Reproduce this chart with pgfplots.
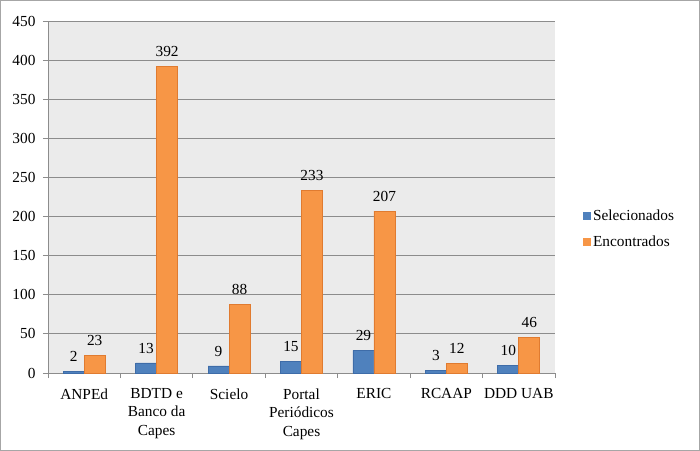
\documentclass[border=0pt]{standalone}
\usepackage{pgfplots}
\pgfplotsset{compat=1.18}
\usepackage{fontspec}
\setmainfont{Liberation Serif}
\definecolor{selblue}{HTML}{4F81BD}
\definecolor{seledge}{HTML}{3E6CA8}
\definecolor{encorange}{HTML}{F79646}
\definecolor{encedge}{HTML}{E07B30}
\definecolor{plotbg}{HTML}{EBEBEB}
\definecolor{gridgray}{HTML}{8C8C8C}
\newcommand{\chartfont}{\rmfamily\fontsize{15.4}{18.5}\selectfont}

\begin{document}
\begin{tikzpicture}
\path[use as bounding box] (-48bp,-78bp) rectangle (652bp,373bp);
\draw[gray!70, line width=1bp] (-47.5bp,-77.5bp) rectangle (651.5bp,372.5bp);
\begin{axis}[
    at={(0,0)}, anchor=south west,
    scale only axis,
    width=507bp, height=352bp,
    ybar=0pt, bar width=21bp,
    xmin=-0.5, xmax=6.5,
    ymin=0, ymax=450,
    ytick={0,50,...,450},
    xtick={-0.5,0.5,...,6.5},
    xticklabels={},
    extra x ticks={0,1,2,3,4,5,6},
    extra x tick labels={ANPEd,BDTD e\\Banco da\\Capes,Scielo,Portal\\Periódicos\\Capes,ERIC,RCAAP,DDD UAB},
    extra x tick style={major tick length=0pt, grid=none},
    xticklabel style={align=center, font=\chartfont, yshift=-12bp},
    yticklabel style={font=\chartfont, xshift=-4bp},
    /pgf/number format/assume math mode=true,
    tick align=outside,
    major tick length=5bp,
    tick style={gridgray, line width=0.8bp},
    axis x line*=bottom, axis y line*=left,
    every outer x axis line/.append style={-},
    every outer y axis line/.append style={-},
    axis line style={gridgray, line width=0.8bp},
    axis background/.style={fill=plotbg},
    ymajorgrids=true,
    grid style={gridgray, line width=0.8bp},
    nodes near coords,
    every node near coord/.append style={font=\chartfont, black, yshift=6bp},
    legend style={at={(1.055,0.41)}, anchor=west, draw=none, fill=none,
        font=\chartfont, row sep=10bp, inner sep=0pt,
        /tikz/every even column/.append style={column sep=0pt}},
    legend cell align=left,
    legend image code/.code={\draw[#1, draw=none] (0bp,-4bp) rectangle (8bp,4bp);},
]
\addplot[fill=selblue, draw=seledge, line width=0.6bp] coordinates {
    (0,2) (1,13) (2,9) (3,15) (4,29) (5,3) (6,10)
};
\addplot[fill=encorange, draw=encedge, line width=0.6bp] coordinates {
    (0,23) (1,392) (2,88) (3,233) (4,207) (5,12) (6,46)
};
\legend{Selecionados,Encontrados}
\end{axis}
\end{tikzpicture}
\end{document}
